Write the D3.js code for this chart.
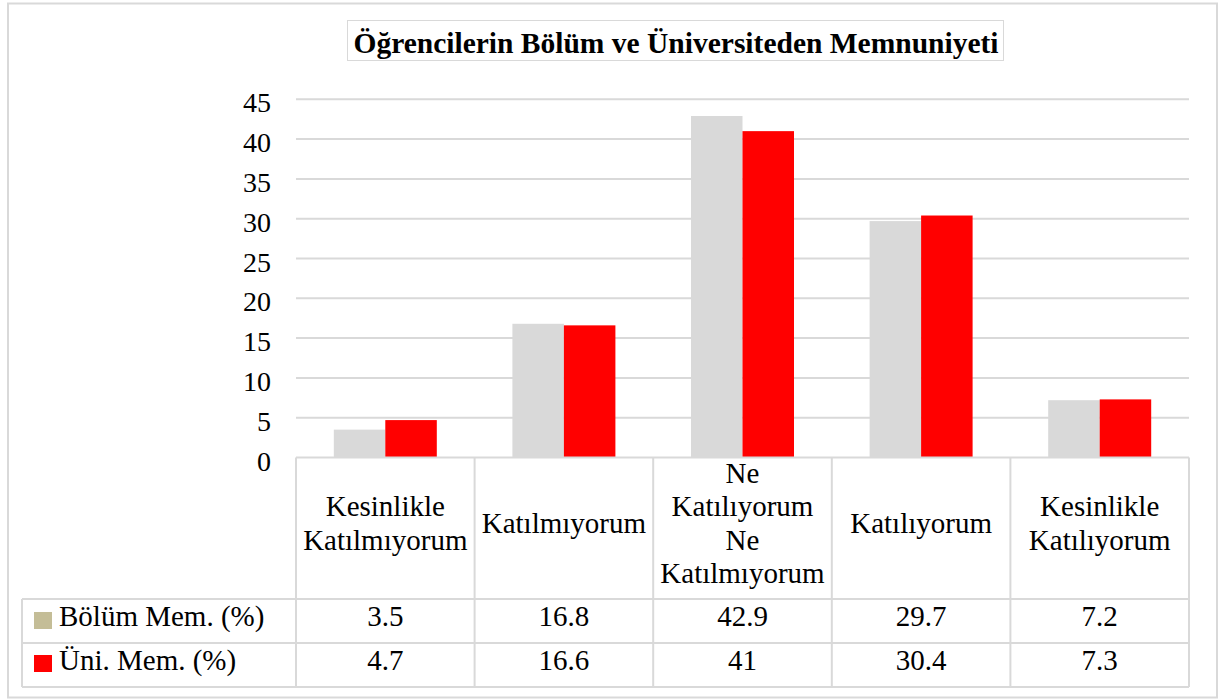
<!DOCTYPE html>
<html>
<head>
<meta charset="utf-8">
<script src="https://cdn.jsdelivr.net/npm/d3@7"></script>
</head>
<body style="margin:0;padding:0;background:#fff">
<script>
// ---- data ----
const chartTitle = "Öğrencilerin Bölüm ve Üniversiteden Memnuniyeti";
const categories = ["Kesinlikle Katılmıyorum", "Katılmıyorum", "Ne Katılıyorum Ne Katılmıyorum", "Katılıyorum", "Kesinlikle Katılıyorum"];
const categoryLines = [
  ["Kesinlikle", "Katılmıyorum"],
  ["Katılmıyorum"],
  ["Ne", "Katılıyorum", "Ne", "Katılmıyorum"],
  ["Katılıyorum"],
  ["Kesinlikle", "Katılıyorum"]
];
const seriesNames = ["Bölüm Mem. (%)", "Üni. Mem. (%)"];
const bolumValues = [3.5, 16.8, 42.9, 29.7, 7.2];
const uniValues = [4.7, 16.6, 41, 30.4, 7.3];
const valueLabels = [["3.5", "16.8", "42.9", "29.7", "7.2"], ["4.7", "16.6", "41", "30.4", "7.3"]];
const yTicks = [0, 5, 10, 15, 20, 25, 30, 35, 40, 45];

const FONT = "Liberation Serif";
const barColors = ["#d9d9d9", "#ff0000"];
const legendColors = ["#c4bd97", "#ff0000"];
const lineColor = "#d9d9d9";

// ---- layout ----
const W = 1219, H = 700;
const plotLeft = 296, plotRight = 1189;
const yZero = 457.5, yTop = 99.3;
const row1Top = 599, row2Top = 643, tableBottom = 687, legendLeft = 22;

const svg = d3.select("body").append("svg").attr("width", W).attr("height", H)
  .style("display", "block");

function txt(sel, size, bold) {
  return sel.attr("font-family", FONT).attr("font-size", size)
    .attr("font-weight", bold ? "bold" : "normal").attr("fill", "#000");
}

// outer frame
svg.append("rect").attr("x", 8).attr("y", 3.5).attr("width", 1209).attr("height", 694)
  .attr("fill", "none").attr("stroke", lineColor).attr("stroke-width", 2);

// title
svg.append("rect").attr("x", 347.5).attr("y", 20.5).attr("width", 656).attr("height", 40)
  .attr("fill", "#fff").attr("stroke", lineColor).attr("stroke-width", 1);
txt(svg.append("text").attr("x", 676).attr("y", 53).attr("text-anchor", "middle"), 29.5, true).text(chartTitle);

// scales
const x = d3.scaleBand().domain(categories).range([plotLeft, plotRight]).padding(0);
const band = x.bandwidth();
const barW = 51.5;
const xs = d3.scaleBand().domain([0, 1]).range([band / 2 - barW, band / 2 + barW]).padding(0);
const y = d3.scaleLinear().domain([0, 45]).range([yZero, yTop]);

// gridlines
svg.append("g").selectAll("line").data(yTicks.filter(d => d > 0)).join("line")
  .attr("x1", plotLeft).attr("x2", plotRight)
  .attr("y1", d => y(d)).attr("y2", d => y(d))
  .attr("stroke", lineColor).attr("stroke-width", 2);

// y axis labels
const yAxis = d3.axisLeft(y).tickValues(yTicks).tickSize(0).tickPadding(0).tickFormat(d3.format("d"));
const yg = svg.append("g").attr("transform", "translate(271,0)").call(yAxis);
yg.attr("font-family", FONT).attr("font-size", 28);
yg.select(".domain").remove();
txt(yg.selectAll("text"), 28, false).attr("dy", "0.45em");

// bars
[bolumValues, uniValues].forEach((vals, si) => {
  svg.append("g").selectAll("rect").data(vals).join("rect")
    .attr("x", (d, i) => x(categories[i]) + xs(si))
    .attr("width", xs.bandwidth())
    .attr("y", d => y(d))
    .attr("height", d => y(0) - y(d))
    .attr("fill", barColors[si]);
});

// table lines
const tg = svg.append("g").attr("stroke", lineColor).attr("stroke-width", 2).attr("fill", "none");
tg.append("line").attr("x1", plotLeft).attr("x2", plotRight).attr("y1", yZero).attr("y2", yZero);
[row1Top, row2Top, tableBottom].forEach(yy => {
  tg.append("line").attr("x1", legendLeft).attr("x2", plotRight).attr("y1", yy).attr("y2", yy);
});
categories.map(c => x(c)).concat([plotRight]).forEach(xx => {
  tg.append("line").attr("x1", xx).attr("x2", xx).attr("y1", yZero).attr("y2", tableBottom);
});
tg.append("line").attr("x1", legendLeft).attr("x2", legendLeft).attr("y1", row1Top).attr("y2", tableBottom);

// header category labels
const headerMid = 533, lineH = 33.5;
categories.forEach((c, i) => {
  const lines = categoryLines[i];
  const cx = x(c) + band / 2;
  const t = txt(svg.append("text").attr("text-anchor", "middle"), 29, false);
  lines.forEach((ln, j) => {
    t.append("tspan").attr("x", cx).attr("y", headerMid + (j - (lines.length - 1) / 2) * lineH).text(ln);
  });
});

// legend rows
const rowBaselines = [626, 670];
const swatchY = [612, 655];
seriesNames.forEach((s, si) => {
  svg.append("rect").attr("x", 34).attr("y", swatchY[si]).attr("width", 18).attr("height", 17)
    .attr("fill", legendColors[si]);
  txt(svg.append("text").attr("x", 59).attr("y", rowBaselines[si]), 29, false).text(s);
  txt(svg.append("g").selectAll("text").data(valueLabels[si]).join("text")
    .attr("x", (d, i) => x(categories[i]) + band / 2)
    .attr("y", rowBaselines[si]).attr("text-anchor", "middle"), 29, false)
    .text(d => d);
});
</script>
</body>
</html>
